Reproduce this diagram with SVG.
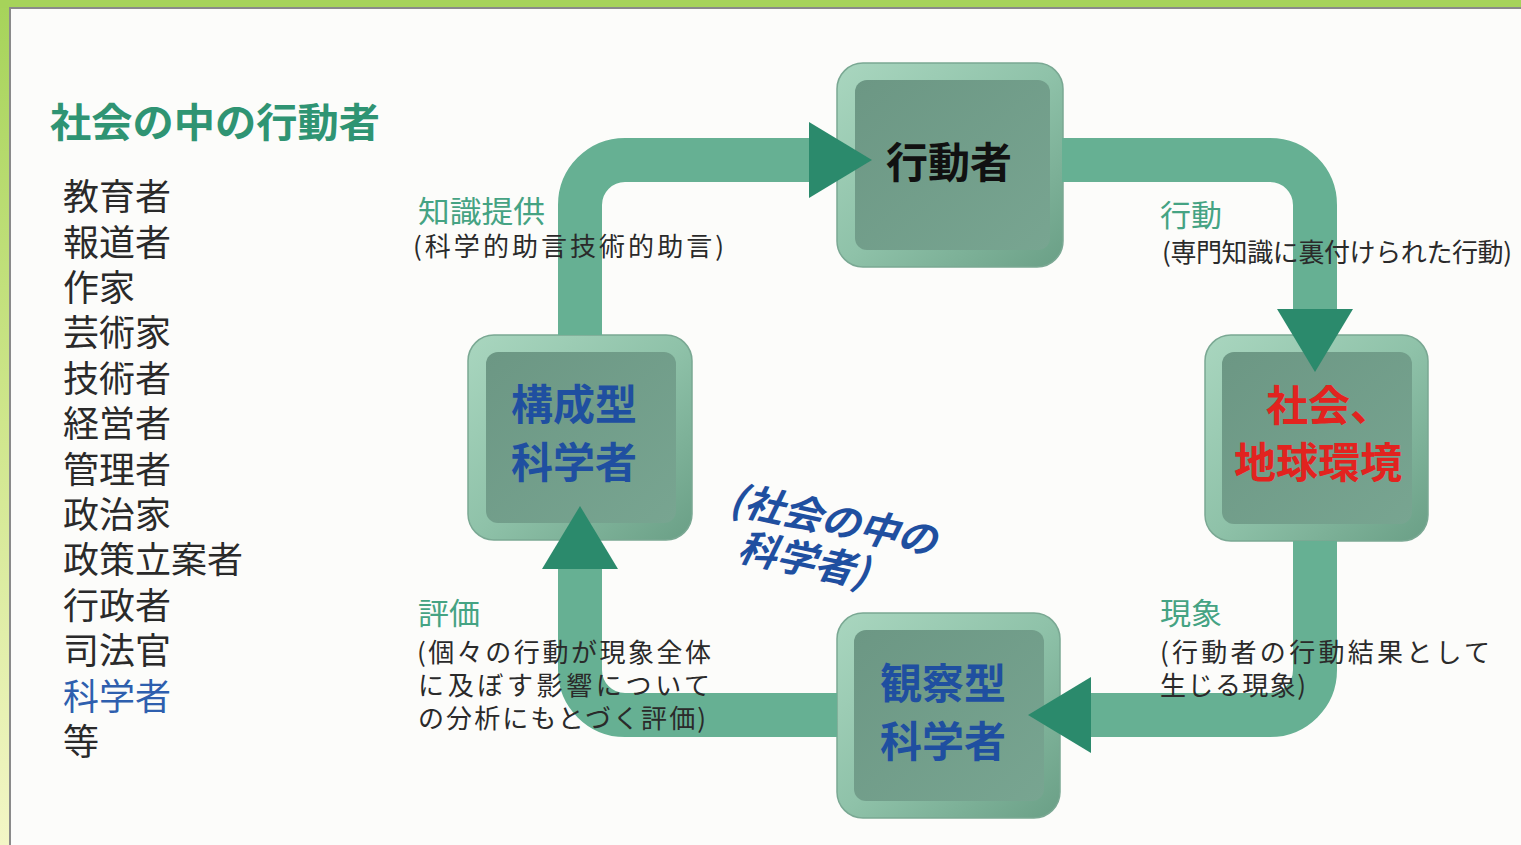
<svg xmlns="http://www.w3.org/2000/svg" width="1521" height="845" viewBox="0 0 1521 845">
<defs>
<linearGradient id="frameG" x1="0" y1="0" x2="0" y2="1">
<stop offset="0" stop-color="#a6d35a"/>
<stop offset="0.5" stop-color="#cfe68c"/>
<stop offset="1" stop-color="#f3f6c6"/>
</linearGradient>
<linearGradient id="nodeOuter" x1="0" y1="0" x2="1" y2="1">
<stop offset="0" stop-color="#a9d6bf"/>
<stop offset="0.5" stop-color="#8fc2a9"/>
<stop offset="1" stop-color="#6a9f86"/>
</linearGradient>
<linearGradient id="nodeInner" x1="0" y1="0" x2="1" y2="1">
<stop offset="0" stop-color="#6c9784"/>
<stop offset="1" stop-color="#78a591"/>
</linearGradient>
<marker id="arr" viewBox="0 0 64 80" markerWidth="64" markerHeight="80" refX="1" refY="40" orient="auto" markerUnits="userSpaceOnUse">
<path d="M0,2 L63,40 L0,78 z" fill="#2b8a6c"/>
</marker>
<style>
.jp{font-family:"Noto Sans CJK JP","Noto Sans CJK SC",sans-serif;}
.title{font-size:40px;font-weight:bold;fill:#2f9473;}
.list{font-size:36px;fill:#2a2a2a;}
.lbl{font-size:30px;fill:#45a383;}
.sub{font-size:26px;fill:#2a2a2a;}
.nodeT{font-size:42px;font-weight:bold;}
.band{fill:none;stroke:#66b093;stroke-width:44;marker-end:url(#arr);}
.outer{fill:url(#nodeOuter);stroke:#7aa893;stroke-width:1.5;}
.inner{fill:url(#nodeInner);}
</style>
</defs>

<rect x="0" y="0" width="1521" height="845" fill="url(#frameG)"/>
<rect x="0" y="0" width="1521" height="8" fill="#a6d35a"/>
<rect x="10" y="8" width="1513" height="840" fill="#fcfcfa" stroke="#8a8a8a" stroke-width="2"/>

<g id="title" class="jp">
<text x="50" y="137" class="title" textLength="330" lengthAdjust="spacingAndGlyphs">社会の中の行動者</text>
</g>

<g id="actor-list" class="jp list">
<text x="63" y="210">教育者</text>
<text x="63" y="255.5">報道者</text>
<text x="63" y="301">作家</text>
<text x="63" y="346">芸術家</text>
<text x="63" y="392">技術者</text>
<text x="63" y="437">経営者</text>
<text x="63" y="483">管理者</text>
<text x="63" y="528">政治家</text>
<text x="63" y="573">政策立案者</text>
<text x="63" y="619">行政者</text>
<text x="63" y="664">司法官</text>
<text x="63" y="710" fill="#2e5fae">科学者</text>
<text x="63" y="755">等</text>
</g>

<g id="node-actor">
<rect class="outer" x="837" y="63" width="226" height="204" rx="26"/>
<rect class="inner" x="855" y="80" width="195" height="170" rx="12"/>
<text class="jp nodeT" x="949" y="178" text-anchor="middle" fill="#111">行動者</text>
</g>

<g id="node-society">
<rect class="outer" x="1205" y="335" width="223" height="206" rx="26"/>
<rect class="inner" x="1222" y="352" width="190" height="172" rx="12"/>
<text class="jp nodeT" x="1266" y="421" fill="#e2231f">社会、</text>
<text class="jp nodeT" x="1234" y="478" fill="#e2231f">地球環境</text>
</g>

<g id="node-constructive">
<rect class="outer" x="468" y="335" width="224" height="205" rx="26"/>
<rect class="inner" x="486" y="352" width="190" height="171" rx="12"/>
<text class="jp nodeT" x="574" y="420" text-anchor="middle" fill="#1f4fa0">構成型</text>
<text class="jp nodeT" x="574" y="478" text-anchor="middle" fill="#1f4fa0">科学者</text>
</g>

<g id="node-observational">
<rect class="outer" x="837" y="613" width="223" height="205" rx="26"/>
<rect class="inner" x="854" y="630" width="190" height="171" rx="12"/>
<text class="jp nodeT" x="943" y="699" text-anchor="middle" fill="#1f4fa0">観察型</text>
<text class="jp nodeT" x="943" y="757" text-anchor="middle" fill="#1f4fa0">科学者</text>
</g>

<g id="connectors">
<path class="band" d="M580 335 V205 A45 45 0 0 1 625 160 H810"/>
<path class="band" d="M1062 160 H1270 A45 45 0 0 1 1315 205 V310"/>
<path class="band" d="M1315 541 V670 A45 45 0 0 1 1270 715 H1090"/>
<path class="band" d="M837 715 H625 A45 45 0 0 1 580 670 V568"/>
</g>

<g id="edge-labels" class="jp">
<text x="418" y="222" class="lbl" textLength="127" lengthAdjust="spacingAndGlyphs">知識提供</text>
<text x="413" y="256" class="sub" textLength="311" lengthAdjust="spacing">(科学的助言技術的助言)</text>
<text x="1160" y="226" class="lbl" textLength="62" lengthAdjust="spacingAndGlyphs">行動</text>
<text x="1162" y="262" class="sub" textLength="350" lengthAdjust="spacing">(専門知識に裏付けられた行動)</text>
<text x="1160" y="624" class="lbl" textLength="62" lengthAdjust="spacingAndGlyphs">現象</text>
<text x="1160" y="662" class="sub" textLength="330" lengthAdjust="spacing">(行動者の行動結果として</text>
<text x="1160" y="695" class="sub" textLength="146" lengthAdjust="spacing">生じる現象)</text>
<text x="418" y="624" class="lbl" textLength="62" lengthAdjust="spacingAndGlyphs">評価</text>
<text x="417" y="662" class="sub" textLength="294" lengthAdjust="spacing">(個々の行動が現象全体</text>
<text x="418" y="695" class="sub" textLength="292" lengthAdjust="spacing">に及ぼす影響について</text>
<text x="418" y="728" class="sub" textLength="288" lengthAdjust="spacing">の分析にもとづく評価)</text>
</g>

<g id="center-label" class="jp" transform="translate(728,512) rotate(12)" font-size="39" font-weight="bold" font-style="italic" fill="#1f4fa0">
<text x="0" y="0">(社会の中の</text>
<text x="18" y="45">科学者)</text>
</g>
</svg>
